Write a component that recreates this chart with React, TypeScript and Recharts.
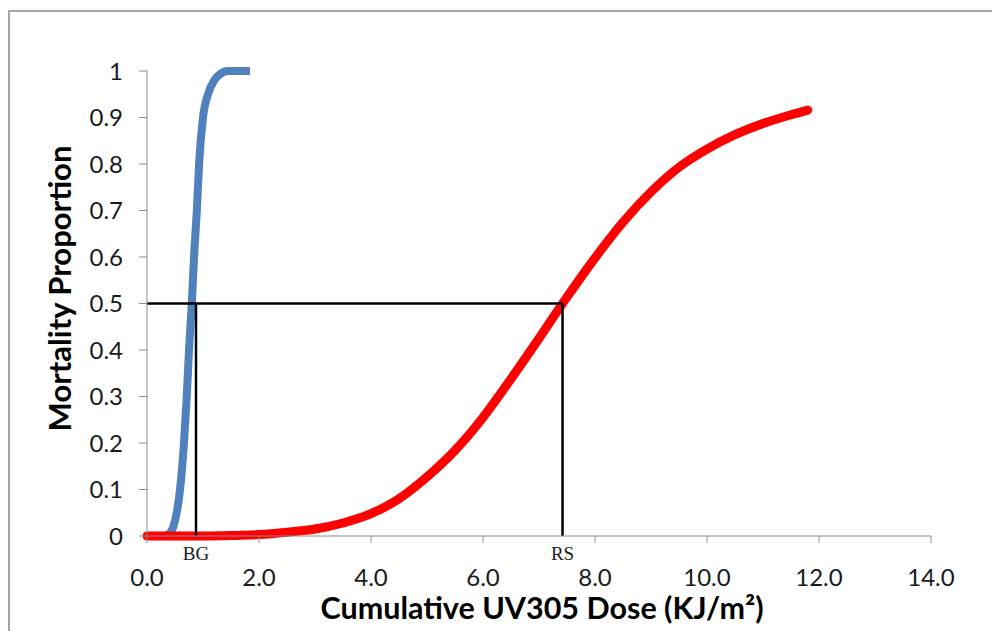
import React from "react";
import {
  LineChart, Line, XAxis, YAxis, ReferenceLine,
} from "recharts";

// blue curve (BG)
const blueDose = [0, 0.3, 0.4, 0.47, 0.53, 0.59, 0.66, 0.71, 0.75, 0.8, 0.84, 0.89, 0.93, 1.0, 1.09, 1.2, 1.3, 1.45, 1.84];
const blueMortality = [0, 0, 0.005, 0.02, 0.05, 0.1, 0.2, 0.3, 0.4, 0.5, 0.6, 0.7, 0.8, 0.9, 0.95, 0.98, 0.993, 1.0, 1.0];

// red curve (RS)
const redDose = [0, 1.0, 1.5, 2.0, 2.5, 3.0, 3.5, 4.0, 4.5, 5.0, 5.5, 6.0, 6.5, 7.0, 7.42, 8.0, 8.5, 9.0, 9.5, 10.0, 10.5, 11.0, 11.5, 11.8];
const redMortality = [0, 0, 0.001, 0.003, 0.008, 0.015, 0.028, 0.048, 0.08, 0.127, 0.184, 0.255, 0.338, 0.425, 0.5, 0.598, 0.675, 0.74, 0.793, 0.832, 0.863, 0.887, 0.906, 0.916];

const xTicks = [0, 2, 4, 6, 8, 10, 12, 14];
const yTicks = [0, 0.1, 0.2, 0.3, 0.4, 0.5, 0.6, 0.7, 0.8, 0.9, 1];

const bgDose = 0.875;
const rsDose = 7.42;

const blueData = blueDose.map((x, i) => ({ x, y: blueMortality[i] }));
const redData = redDose.map((x, i) => ({ x, y: redMortality[i] }));

const tickFont = { fontFamily: "Lato", fontSize: 24, fill: "#1a1a1a" };

function markLabel(text: string) {
  return ({ viewBox }: any) => (
    <text
      x={viewBox.x}
      y={viewBox.y + viewBox.height + 24}
      textAnchor="middle"
      fontFamily="Liberation Serif"
      fontSize={19}
      fill="#1a1a1a"
    >
      {text}
    </text>
  );
}

export default function App() {
  return (
    <div style={{ position: "relative", width: 992, height: 623, overflow: "hidden" }}>
      <div
        style={{
          position: "absolute", left: 0, top: 2, right: -10, bottom: -10,
          borderTop: "2px solid #a6a6a6", borderLeft: "2px solid #a6a6a6",
        }}
      />
      <LineChart
        width={992}
        height={623}
        margin={{ top: 63, right: 69, left: 0, bottom: 0 }}
      >
        <XAxis
          dataKey="x"
          type="number"
          domain={[0, 14]}
          ticks={xTicks}
          tickFormatter={(v: number) => v.toFixed(1)}
          height={95}
          tickSize={7}
          tickMargin={26}
          stroke="#8c8c8c"
          tick={tickFont}
          label={({ viewBox }: any) => (
            <text
              x={viewBox.x + viewBox.width / 2 + 3}
              y={viewBox.y + 83}
              textAnchor="middle"
              fontFamily="Lato"
              fontWeight="bold"
              fontSize={30.5}
              fill="#000"
            >
              Cumulative UV305 Dose (KJ/m²)
            </text>
          )}
        />
        <YAxis
          dataKey="y"
          type="number"
          domain={[0, 1]}
          ticks={yTicks}
          width={139}
          tickSize={8}
          tickMargin={16}
          stroke="#8c8c8c"
          tick={tickFont}
          label={({ viewBox }: any) => {
            const cx = 51;
            const cy = viewBox.y + viewBox.height / 2 - 15;
            return (
              <text
                x={cx}
                y={cy}
                transform={`rotate(-90 ${cx} ${cy})`}
                textAnchor="middle"
                dominantBaseline="central"
                fontFamily="Lato"
                fontWeight="bold"
                fontSize={31}
                fill="#000"
              >
                Mortality Proportion
              </text>
            );
          }}
        />
        <Line
          data={blueData}
          dataKey="y"
          type="monotone"
          stroke="#4f81bd"
          strokeWidth={8}
          dot={false}
          isAnimationActive={false}
        />
        <Line
          data={redData}
          dataKey="y"
          type="monotone"
          stroke="#ff0000"
          strokeWidth={9}
          strokeLinecap="round"
          dot={false}
          isAnimationActive={false}
        />
        <ReferenceLine
          segment={[{ x: 0, y: 0.5 }, { x: rsDose, y: 0.5 }]}
          stroke="#000"
          strokeWidth={2.5}
        />
        <ReferenceLine
          segment={[{ x: bgDose, y: 0 }, { x: bgDose, y: 0.5 }]}
          stroke="#000"
          strokeWidth={2.5}
          label={markLabel("BG")}
        />
        <ReferenceLine
          segment={[{ x: rsDose, y: 0 }, { x: rsDose, y: 0.5 }]}
          stroke="#000"
          strokeWidth={2.5}
          label={markLabel("RS")}
        />
      </LineChart>
    </div>
  );
}
